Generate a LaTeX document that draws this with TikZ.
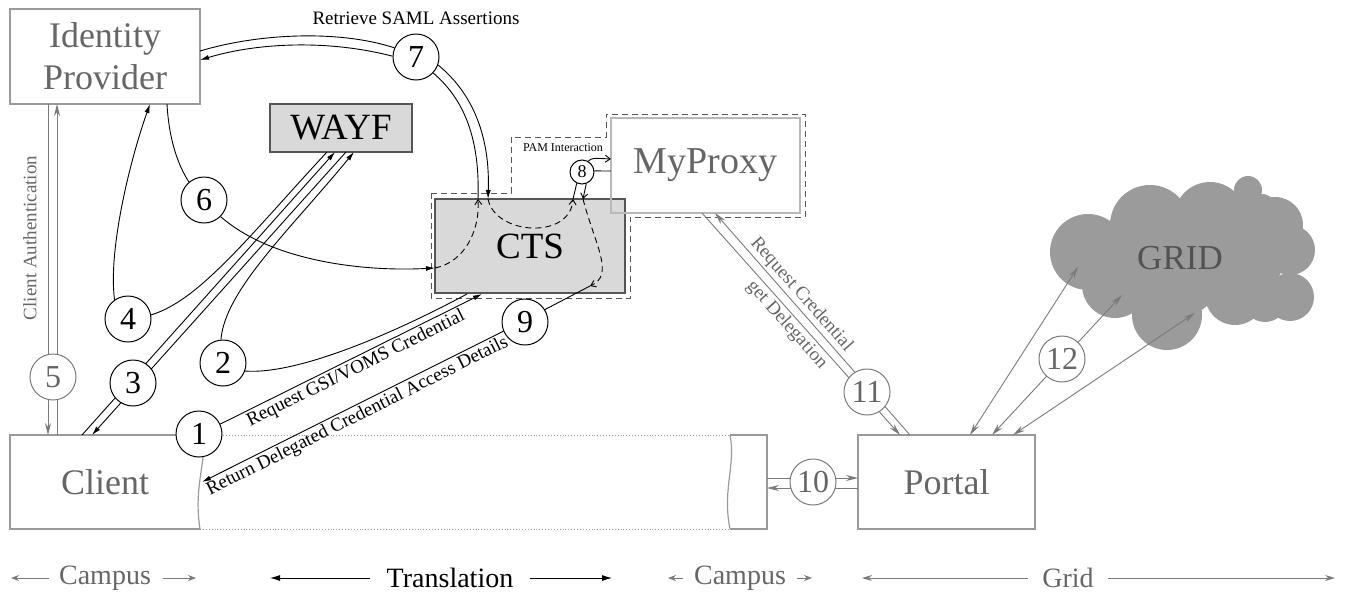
\documentclass[tikz,border=0pt]{standalone}
\usepackage{fontspec}
\setmainfont{Liberation Serif}
\usetikzlibrary{arrows.meta}

\definecolor{boxgray}{HTML}{9A9A9A}
\definecolor{txtgray}{HTML}{666666}
\definecolor{lngray}{HTML}{7A7A7A}
\definecolor{darkedge}{HTML}{555555}
\definecolor{ctsfill}{HTML}{D9D9D9}
\definecolor{cloudgray}{HTML}{9B9B9B}

\tikzset{
  arr/.style={-{Latex[length=9pt,width=5pt]}},
  rarr/.style={{Latex[length=9pt,width=5pt]}-},
  garr/.style={lngray, -{Stealth[length=12pt,width=6pt]}},
  rgarr/.style={lngray, {Stealth[length=12pt,width=6pt]}-},
  gdarr/.style={lngray, {Stealth[length=12pt,width=6pt]}-{Stealth[length=12pt,width=6pt]}},
  oarr/.style={-{Straight Barb[length=5pt,width=7pt]}},
  plainbox/.style={draw=boxgray, line width=1.2pt, inner sep=0pt, text=txtgray, font=\fontsize{36}{42}\selectfont},
  greybox/.style={draw=darkedge, fill=ctsfill, line width=1.2pt, inner sep=0pt, font=\fontsize{37}{42}\selectfont},
  num/.style={circle, draw, fill=white, line width=1pt, minimum size=46pt, inner sep=0pt, font=\fontsize{32}{32}\selectfont},
  gnum/.style={num, draw=lngray, text=txtgray},
  lbl/.style={font=\fontsize{19}{19}\selectfont, inner sep=2pt},
  foot/.style={font=\fontsize{28}{28}\selectfont, inner sep=0pt},
}

\begin{document}
\begin{tikzpicture}[x=1pt, y=-1pt, line width=0.9pt]
    \useasboundingbox (0,0) rectangle (1357,595);

    % where the connectors meet the boxes
    \coordinate (idp4) at (150,104);
    \coordinate (idp5a) at (48,104);
    \coordinate (idp5b) at (57,104);
    \coordinate (idp6) at (167,104);
    \coordinate (idp7a) at (200,51);
    \coordinate (idp7b) at (200,60);
    \coordinate (wf2) at (354,152);
    \coordinate (wf3a) at (335,152);
    \coordinate (wf3b) at (346,152);
    \coordinate (wf4) at (327,152);
    \coordinate (cl3a) at (82,435);
    \coordinate (cl3b) at (92,435);
    \coordinate (cl5a) at (48,435);
    \coordinate (cl5b) at (57,435);
    \coordinate (cl9) at (202,482);
    \coordinate (cts1) at (482,294);
    \coordinate (cts2) at (467,294);
    \coordinate (cts6) at (435,268);
    \coordinate (cts7a) at (478,199);
    \coordinate (cts7b) at (488,199);
    \coordinate (cts8a) at (573,199);
    \coordinate (cts8b) at (583,199);
    \coordinate (cts9) at (590,286);
    \coordinate (mp8a) at (611,159);
    \coordinate (mp8b) at (611,171);
    \coordinate (mp11a) at (702,213);
    \coordinate (mp11b) at (715,213);
    \coordinate (cr10a) at (767,478);
    \coordinate (cr10b) at (767,488);
    \coordinate (pt10a) at (858,478);
    \coordinate (pt10b) at (858,488);
    \coordinate (pt11a) at (900,435);
    \coordinate (pt11b) at (910,435);
    \coordinate (pt12a) at (970,435);
    \coordinate (pt12b) at (992,435);
    \coordinate (pt12c) at (1013,435);
    \coordinate (gr12a) at (1078,267);
    \coordinate (gr12b) at (1122,295);
    \coordinate (gr12c) at (1195,313);

    % boxes
    \node[plainbox, minimum width=190pt, minimum height=95pt, align=center] (idp) at (105,56.5) {Identity\\Provider};
    \node[greybox, minimum width=142pt, minimum height=48pt] (wayf) at (341,128) {WAYF};
    \draw[darkedge, dash pattern=on 6pt off 4pt] (431,193) -- (511,193) -- (511,137) -- (606,137) -- (606,114) -- (805,114) -- (805,217) -- (630,217) -- (630,298) -- (431,298) -- cycle; % frame round CTS and MyProxy
    \node[greybox, minimum width=190pt, minimum height=94pt] (cts) at (530,246) {CTS};
    \node[plainbox, draw=boxgray!70, line width=2pt, minimum width=189pt, minimum height=95pt, font=\fontsize{38}{42}\selectfont] (myproxy) at (705.5,165.5) {MyProxy};
    \node[plainbox, minimum width=177pt, minimum height=94pt] (portal) at (946.5,482) {Portal};
    \node[text=txtgray, font=\fontsize{36}{42}\selectfont] (client) at (105,482) {Client};

    % client, broken in the middle
    \draw[boxgray, line width=1.2pt] (200,435) -- (10,435) -- (10,529) -- (200,529);
    \draw[boxgray, line width=1.2pt] (204,440) .. controls (204,470) and (194,490) .. (200,529);
    \draw[boxgray, line width=1.2pt] (730,435) -- (767,435) -- (767,529) -- (730,529);
    \draw[boxgray, line width=1.2pt] (730,435) .. controls (736,465) and (722,490) .. (730,529);
    \draw[boxgray, dotted] (200,435) -- (730,435) (200,529) -- (730,529);

    % grid cloud
    \foreach \cx/\cy/\r in {1088/252/38, 1150/225/40, 1210/218/36, 1248/190/14, 1275/225/28, 1290/250/25, 1290/297/24, 1167/315/35, 1115/285/33, 1235/295/30, 1265/300/22, 1170/265/55, 1245/255/40, 1110/262/35, 1262/208/14, 1245/215/20}
        \fill[cloudgray] (\cx,\cy) circle[radius=\r];
    \node[text=txtgray!80!black, font=\fontsize{35}{35}\selectfont] (grid) at (1180,258) {GRID};

    % straight double lines, the circles go on top
    \draw[garr] (idp5a) -- (cl5a);
    \draw[garr] (cl5b) -- (idp5b);
    \draw[arr] (cl3a) -- (wf3a);
    \draw[arr] (wf3b) -- (cl3b);
    \draw[garr] (cr10a) -- (pt10a);
    \draw[garr] (pt10b) -- (cr10b);
    \draw[garr] (mp11a) -- node[below, sloped, pos=.47, lbl, text=txtgray] {get Delegation} (pt11a);
    \draw[rgarr] (mp11b) -- node[above, sloped, pos=.4, lbl, text=txtgray] {Request Credential} (pt11b);
    \draw[gdarr] (pt12a) -- (gr12a);
    \draw[gdarr] (pt12b) -- (gr12b);
    \draw[gdarr] (pt12c) -- (gr12c);

    % steps
    \node[num] (c1) at (199,434) {1};
    \node[num] (c2) at (223,363) {2};
    \node[num] (c3) at (133,383) {3};
    \node[num] (c4) at (128,319) {4};
    \node[gnum] (c5) at (53,377) {5};
    \node[num] (c6) at (204,200) {6};
    \node[num] (c7) at (416,57) {7};
    \node[num, minimum size=24pt, font=\fontsize{18}{18}\selectfont] (c8) at (582,172) {8};
    \node[num] (c9) at (525,322) {9};
    \node[gnum] (c10) at (813,482) {10};
    \node[gnum] (c11) at (867,392) {11};
    \node[gnum] (c12) at (1062,359) {12};

    \node[rotate=90, lbl, text=txtgray] (authlbl) at (30,238) {Client Authentication};

    % 1 and 9
    \draw[arr] (c1.25) -- node[below, sloped, lbl] {Request GSI/VOMS Credential} (cts1);
    \draw[rarr] (cl9) -- node[below, sloped, lbl] {Return Delegated Credential Access Details} (c9.203);
    \draw (c9.32) -- (cts9);

    % 2
    \draw (cts2) .. controls (400,330) and (300,375) .. (c2.-20);
    \draw[arr] (c2.95) .. controls (225,290) and (290,230) .. (wf2);

    % 4
    \draw (wf4) .. controls (250,235) and (200,300) .. (c4.10);
    \draw[arr] (c4.125) .. controls (108,250) and (130,160) .. (idp4);

    % 6
    \draw (idp6) .. controls (169,140) and (178,165) .. (c6.130);
    \draw[arr] (c6.-45) .. controls (270,260) and (360,272) .. (cts6);
    \draw[dash pattern=on 6pt off 4pt, oarr] (cts6) .. controls (465,262) and (480,230) .. (cts7a);

    % 7
    \draw (cts7a) .. controls (480,140) and (465,100) .. (c7.-43);
    \draw[arr] (c7.-20) .. controls (475,95) and (490,140) .. (cts7b);
    \draw[arr] (c7.178) .. controls (330,40) and (260,42) .. (idp7b);
    \draw (idp7a) .. controls (260,33) and (340,30) .. (c7.157);
    \node[lbl] (samllbl) at (416,18) {Retrieve SAML Assertions};

    % 8
    \draw[dash pattern=on 6pt off 4pt, oarr] (cts7b) .. controls (495,235) and (570,240) .. (cts8a);
    \draw (cts8a) -- (c8.-115);
    \draw[oarr] (c8.-70) -- (cts8b);
    \draw[dash pattern=on 6pt off 4pt, oarr] (cts8b) .. controls (595,245) and (615,275) .. (cts9);
    \draw[oarr] (c8.60) .. controls (592,158) .. (mp8a);
    \draw (c8.5) -- (mp8b);
    \node[font=\fontsize{12}{12}\selectfont] (pamlbl) at (563,148) {PAM Interaction};

    % zones along the bottom
    \node[foot, text=txtgray] (campA) at (105,578) {Campus};
    \node[foot] (transl) at (450,578) {Translation};
    \node[foot, text=txtgray] (campB) at (740,578) {Campus};
    \node[foot, text=txtgray] (gridlbl) at (1068,578) {Grid};
    \coordinate (campA1) at (11,578);
    \coordinate (campA2) at (196,578);
    \coordinate (transl1) at (270,578);
    \coordinate (transl2) at (612,578);
    \coordinate (campB1) at (668,578);
    \coordinate (campB2) at (812,578);
    \coordinate (grid1) at (862,578);
    \coordinate (grid2) at (1335,578);
    \draw[lngray, -{Stealth[length=8pt,width=6pt]}] ([xshift=-10pt]campA.west) -- (campA1);
    \draw[lngray, -{Stealth[length=8pt,width=6pt]}] ([xshift=12pt]campA.east) -- (campA2);
    \draw[-{Latex[length=10pt,width=6pt]}] ([xshift=-16pt]transl.west) -- (transl1);
    \draw[-{Latex[length=10pt,width=6pt]}] ([xshift=16pt]transl.east) -- (transl2);
    \draw[lngray, -{Stealth[length=8pt,width=6pt]}] ([xshift=-11pt]campB.west) -- (campB1);
    \draw[lngray, -{Stealth[length=8pt,width=6pt]}] ([xshift=11pt]campB.east) -- (campB2);
    \draw[lngray, -{Stealth[length=10pt,width=6pt]}] ([xshift=-14pt]gridlbl.west) -- (grid1);
    \draw[lngray, -{Stealth[length=10pt,width=6pt]}] ([xshift=14pt]gridlbl.east) -- (grid2);
\end{tikzpicture}
\end{document}
